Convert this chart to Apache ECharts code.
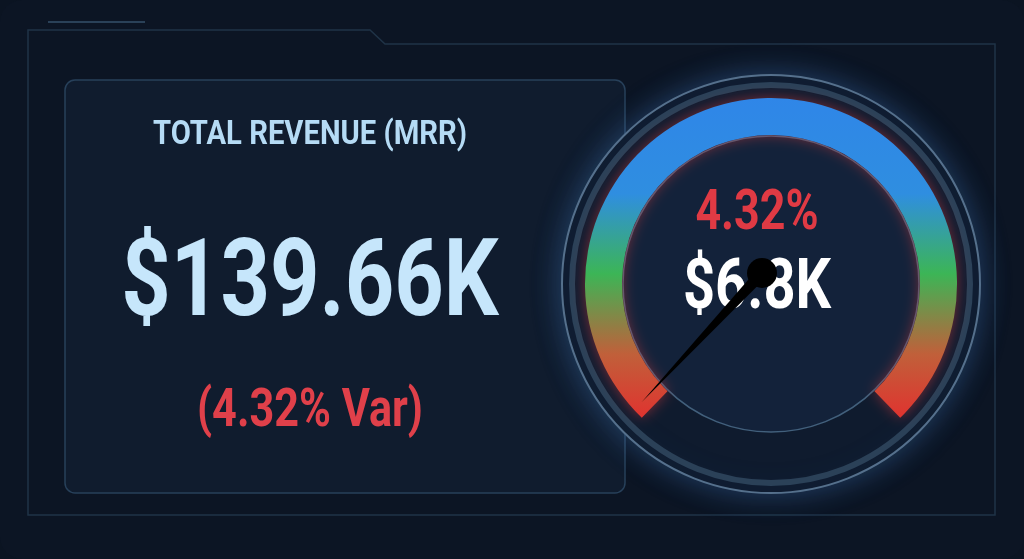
<!DOCTYPE html>
<html>
<head>
<meta charset="utf-8">
<script src="https://cdn.jsdelivr.net/npm/echarts@6/dist/echarts.min.js"></script>
<style>
  html, body { margin: 0; padding: 0; background: #060c16; }
  #chart { width: 1024px; height: 559px; }
</style>
</head>
<body>
<div id="chart"></div>
<script>
const kpiLabel = "TOTAL REVENUE (MRR)";
const kpiValue = "$139.66K";
const kpiVar = "(4.32% Var)";
const gaugeValue = [4.32];
const gaugeRange = [0, 100];
const gaugePct = "4.32%";
const gaugeAmount = "$6.8K";

const font = "'Roboto', 'DejaVu Sans', sans-serif";
const chart = echarts.init(document.getElementById("chart"));

const cx = 771, cy = 284;

// narrow bold text, squeezed horizontally to look condensed
function label(text, x, y, size, fill, sx) {
  return {
    type: "text", x: x, y: y, scaleX: sx, z: 1,
    style: { text: text, x: 0, y: 0, align: "center", verticalAlign: "middle",
      fill: fill, font: "bold " + size + "px " + font }
  };
}

chart.setOption({
  backgroundColor: "#0b1422",
  graphic: [
    { type: "rect", shape: { x: 0, y: 0, width: 1024, height: 559, r: 22 },
      style: { fill: "#0c1524" }, z: -10 },
    { type: "polyline", shape: { points: [[28, 60], [28, 30], [370, 30], [385, 44], [995, 44], [995, 515], [28, 515], [28, 60]] },
      style: { stroke: "#1f3347", lineWidth: 1.5, fill: null }, z: -9 },
    { type: "line", shape: { x1: 48, y1: 22, x2: 145, y2: 22 }, style: { stroke: "#2a4158", lineWidth: 2 } },
    { type: "rect", shape: { x: 65, y: 80, width: 560, height: 413, r: 10 },
      style: { fill: "#101c2e", stroke: "#27405a", lineWidth: 1.5 }, z: -8 },
    { type: "circle", shape: { cx: cx, cy: cy, r: 209 },
      style: { fill: "#0f1b2e", stroke: "#55708c", lineWidth: 2, shadowBlur: 30, shadowColor: "rgba(80,150,230,0.35)" }, z: -7 },
    { type: "circle", shape: { cx: cx, cy: cy, r: 199 },
      style: { fill: null, stroke: "#2b4158", lineWidth: 6 }, z: -6 },
    { type: "circle", shape: { cx: cx, cy: cy, r: 148 },
      style: { fill: "#13223a", stroke: "#42607c", lineWidth: 1.5 }, z: -6 },
    label(kpiLabel, 310, 135, 34, "#b5dbf5", 0.86),
    label(kpiValue, 310, 288, 108, "#c6e6fb", 0.8),
    label(kpiVar, 310, 412, 54, "#e0404a", 0.8),
    label(gaugePct, 757, 215, 56, "#e03a44", 0.8),
    label(gaugeAmount, 757, 290, 70, "#ffffff", 0.8)
  ],
  series: [
    {
      type: "gauge",
      center: [cx, cy],
      radius: 186,
      startAngle: 226,
      endAngle: -46,
      min: gaugeRange[0],
      max: gaugeRange[1],
      progress: {
        show: true, width: 37, roundCap: false,
        itemStyle: {
          color: new echarts.graphic.LinearGradient(0, 0, 0, 1, [
            { offset: 0, color: "#2f86e8" },
            { offset: 0.3, color: "#2f8ee0" },
            { offset: 0.55, color: "#3cb556" },
            { offset: 0.8, color: "#c0603a" },
            { offset: 1, color: "#e0332f" }
          ]),
          shadowBlur: 14, shadowColor: "rgba(230,60,60,0.5)"
        }
      },
      axisLine: { lineStyle: { width: 37, color: [[1, "rgba(0,0,0,0)"]] } },
      axisTick: { show: false }, splitLine: { show: false }, axisLabel: { show: false },
      pointer: { show: false }, title: { show: false }, detail: { show: false },
      data: [gaugeRange[1]],
      silent: true
    },
    {
      type: "gauge",
      center: [762, 273],
      radius: 180,
      startAngle: 240,
      endAngle: -60,
      min: gaugeRange[0],
      max: gaugeRange[1],
      axisLine: { show: false },
      axisTick: { show: false }, splitLine: { show: false }, axisLabel: { show: false },
      pointer: { show: true, length: "98%", width: 12, icon: "triangle",
        itemStyle: { color: "#000" } },
      anchor: { show: true, size: 30, itemStyle: { color: "#000" } },
      title: { show: false },
      detail: { show: false },
      data: [{ value: gaugeValue[0], name: gaugePct }],
      z: 5
    }
  ]
});
</script>
</body>
</html>
